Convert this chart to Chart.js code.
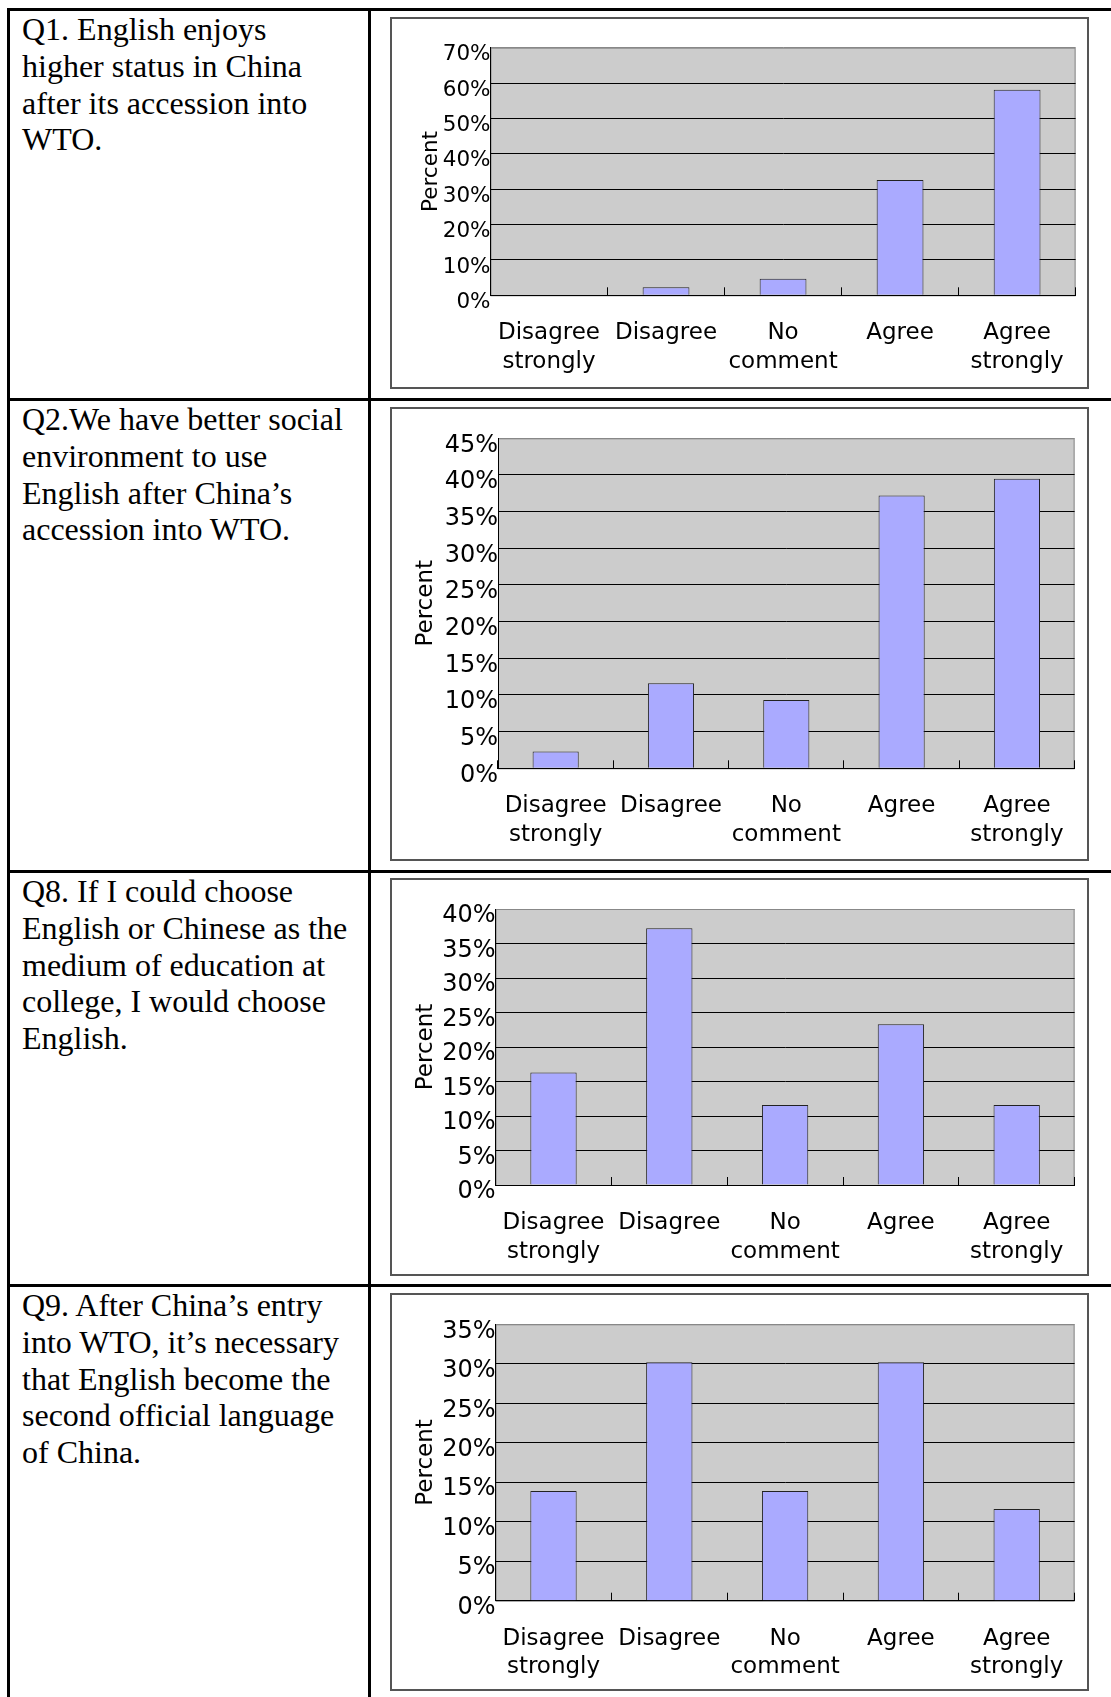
<!DOCTYPE html>
<html>
<head>
<meta charset="utf-8">
<title>Attitudes towards English after WTO accession</title>
<script src="https://cdn.jsdelivr.net/npm/chart.js@4.4.1/dist/chart.umd.min.js"></script>
<style>
  html, body { margin: 0; padding: 0; background: #fff; }
  body { width: 1111px; height: 1697px; position: relative; overflow: hidden; }
  .line { position: absolute; background: #000; }
  .q {
    position: absolute; left: 22px;
    font-family: 'Liberation Serif', 'Times New Roman', serif;
    font-size: 32px; line-height: 36.8px; color: #000; white-space: nowrap;
  }
  .box { position: absolute; left: 390px; width: 695px; border: 2px solid #555; background: #fff; }
  .box canvas { display: block; }
</style>
</head>
<body>

<!-- table rules -->
<div class="line" style="left:7px; top:8px; width:1104px; height:3px;"></div>
<div class="line" style="left:7px; top:398px; width:1104px; height:3px;"></div>
<div class="line" style="left:7px; top:870px; width:1104px; height:3px;"></div>
<div class="line" style="left:7px; top:1284px; width:1104px; height:3px;"></div>
<div class="line" style="left:7px; top:8px; width:3px; height:1689px;"></div>
<div class="line" style="left:368px; top:8px; width:3px; height:1689px;"></div>

<!-- question text -->
<div class="q" style="top:11px;">Q1. English enjoys<br>higher status in China<br>after its accession into<br>WTO.</div>
<div class="q" style="top:401px;">Q2.We have better social<br>environment to use<br>English after China’s<br>accession into WTO.</div>
<div class="q" style="top:873px;">Q8. If I could choose<br>English or Chinese as the<br>medium of education at<br>college, I would choose<br>English.</div>
<div class="q" style="top:1287px;">Q9. After China’s entry<br>into WTO, it’s necessary<br>that English become the<br>second official language<br>of China.</div>

<!-- charts -->
<div class="box" style="top:17px; height:368px;"><canvas id="c1" width="695" height="368"></canvas></div>
<div class="box" style="top:407px; height:450px;"><canvas id="c2" width="695" height="450"></canvas></div>
<div class="box" style="top:878px; height:394px;"><canvas id="c3" width="695" height="394"></canvas></div>
<div class="box" style="top:1293px; height:394px;"><canvas id="c4" width="695" height="394"></canvas></div>

<script>
// data (percent of respondents)
const categories = [['Disagree', 'strongly'], 'Disagree', ['No', 'comment'], 'Agree', ['Agree', 'strongly']];
const q1Values = [0, 2.3, 4.7, 32.6, 58.1];
const q2Values = [2.3, 11.6, 9.3, 37.2, 39.5];
const q8Values = [16.3, 37.2, 11.6, 23.3, 11.6];
const q9Values = [13.9, 30.2, 13.9, 30.2, 11.6];
const yMaxes = [70, 45, 40, 35];
const ySteps = [10, 5, 5, 5];
const yTitle = 'Percent';

// layout of each panel
const panels = [
  { id: 'c1', values: q1Values, axisW: 98.5, padTop: 28.7, padRight: 11.4, xH: 91.7, yFont: 21.5, titleFont: 21.5, titleX: 39 },
  { id: 'c2', values: q2Values, axisW: 106, padTop: 29.3, padRight: 12.4, xH: 90.7, yFont: 24, titleFont: 23, titleX: 34 },
  { id: 'c3', values: q8Values, axisW: 103.6, padTop: 29, padRight: 12.4, xH: 89, yFont: 24, titleFont: 23, titleX: 34 },
  { id: 'c4', values: q9Values, axisW: 103.6, padTop: 29.3, padRight: 12.4, xH: 88.3, yFont: 24, titleFont: 23, titleX: 34 }
];

Chart.defaults.font.family = "'DejaVu Sans', Verdana, sans-serif";
Chart.defaults.color = '#000';

// grey plot area like the spreadsheet original
const plotBg = {
  id: 'plotBg',
  beforeDraw(chart) {
    const { ctx, chartArea: a } = chart;
    ctx.save();
    ctx.fillStyle = '#cccccc';
    ctx.fillRect(a.left, a.top, a.width, a.height);
    ctx.strokeStyle = '#888';
    ctx.lineWidth = 1;
    ctx.strokeRect(a.left + 0.5, a.top + 0.5, a.width - 1, a.height);
    ctx.restore();
  }
};

panels.forEach((p, i) => {
  const max = yMaxes[i];
  const lh = p.titleFont * 1.2;
  new Chart(document.getElementById(p.id).getContext('2d'), {
    type: 'bar',
    data: {
      labels: categories,
      datasets: [{
        data: p.values,
        backgroundColor: '#aaaaff',
        borderColor: '#222',
        borderWidth: 1,
        categoryPercentage: 1,
        barPercentage: 0.4
      }]
    },
    options: {
      responsive: false,
      animation: false,
      devicePixelRatio: 1,
      layout: { padding: { top: p.padTop, right: p.padRight, left: 0, bottom: 0 } },
      plugins: { legend: { display: false }, tooltip: { enabled: false } },
      scales: {
        x: {
          offset: true,
          grid: { offset: true, drawOnChartArea: false, drawTicks: true, tickLength: -8, color: '#000', lineWidth: 1 },
          border: { display: true, color: '#000', width: 1 },
          ticks: { font: { size: 23, lineHeight: 1.25 }, padding: 31.5, maxRotation: 0, autoSkip: false },
          afterFit(scale) {
            scale.height = p.xH;
            scale.paddingLeft = 0;
            scale.paddingRight = 0;
          }
        },
        y: {
          min: 0,
          max: max,
          ticks: {
            stepSize: ySteps[i],
            font: { size: p.yFont },
            padding: 0,
            labelOffset: 7,
            callback: v => v + '%'
          },
          grid: {
            drawTicks: false,
            tickLength: 0,
            lineWidth: 1,
            color: c => (c.tick && c.tick.value === max) ? '#888' : '#000'
          },
          border: { display: true, color: '#000', width: 1 },
          title: {
            display: true,
            text: yTitle,
            font: { size: p.titleFont },
            padding: { top: p.titleX - lh / 2, bottom: 0 }
          },
          afterFit(scale) { scale.width = p.axisW; }
        }
      }
    },
    plugins: [plotBg]
  });
});
</script>
</body>
</html>
